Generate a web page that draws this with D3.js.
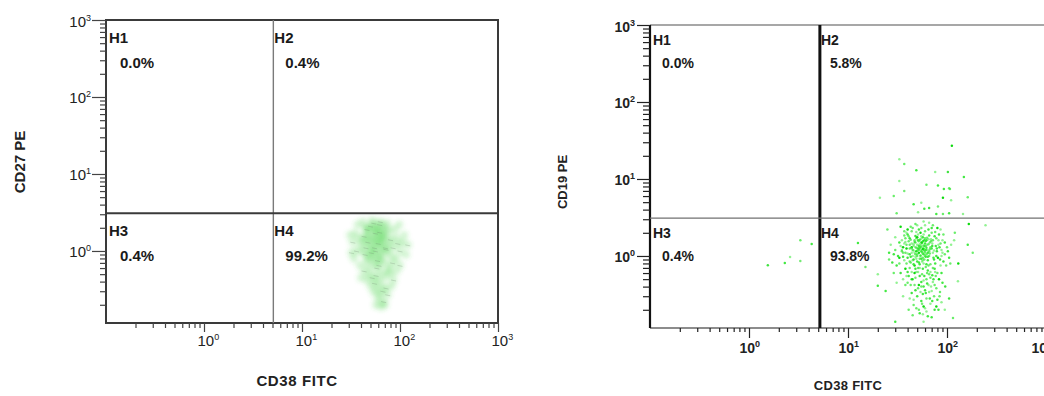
<!DOCTYPE html>
<html><head><meta charset="utf-8">
<script src="https://cdn.jsdelivr.net/npm/d3@7"></script>
<style>
body{margin:0;background:#fff;}
svg{display:block;font-family:"Liberation Sans",Arial,Helvetica,sans-serif;}
</style>
</head><body>
<svg id="chart" width="1044" height="396"></svg>
<script>
// ---------------- DATA ----------------
const majorTicks = [1, 10, 100, 1000];
const majorExponents = ["0", "1", "2", "3"];
const quadrantNames = ["H1", "H2", "H3", "H4"];
const leftPercents = ["0.0%", "0.4%", "0.4%", "99.2%"];
const rightPercents = ["0.0%", "5.8%", "0.4%", "93.8%"];
const leftXTitle = "CD38 FITC";
const leftYTitle = "CD27 PE";
const rightXTitle = "CD38 FITC";
const rightYTitle = "CD19 PE";
const xDomain = [0.1, 1000];
const yDomain = [0.116, 1000];
const leftGate = [5.1, 3.1];   // [CD38 cut, CD27 cut]
const rightGate = [5.2, 3.1];  // [CD38 cut, CD19 cut]

// left panel events (CD38, CD27)
const leftEvents = [
[56,1.0],[50,1.2],[62,0.9],[45,1.1],[68,1.3],[53,1.5],[59,0.75],[47,0.85],[64,1.6],[72,1.05],
[42,1.35],[57,1.8],[51,0.95],[66,0.8],[48,1.65],[60,1.25],[54,0.7],[70,1.5],[44,0.9],[63,1.15],
[58,2.0],[46,1.9],[75,0.95],[52,1.4],[61,0.65],[40,1.2],[67,1.9],[55,1.1],[49,0.6],[73,1.7],
[43,1.55],[65,1.0],[57,1.3],[50,2.1],[78,1.25],[45,0.72],[62,2.2],[53,0.88],[69,0.7],[47,1.3],
[59,1.45],[41,1.0],[56,1.7],[64,1.35],[51,1.05],[71,1.1],[48,1.95],[60,0.82],[54,2.3],[66,1.55],
[38,1.45],[80,1.4],[44,2.0],[76,1.9],[58,0.6],[50,0.78],[68,2.1],[62,1.75],[46,1.5],[55,1.95],
[36,1.0],[35,1.7],[34,0.8],[85,1.1],[90,1.5],[82,0.85],[95,1.25],[37,2.2],[88,1.9],[100,1.0],
[42,2.4],[52,2.5],[63,2.4],[74,2.3],[39,0.65],[84,0.7],[92,0.8],[105,1.3],[33,1.3],[110,1.6],
[48,0.5],[57,0.48],[66,0.52],[75,0.55],[43,0.55],[60,0.42],[70,0.45],[52,0.45],[80,0.5],[46,0.42],
[55,0.38],[64,0.36],[58,0.32],[67,0.3],[62,0.27],[54,0.29],[72,0.33],[50,0.35],[60,0.24],[68,0.22],
[57,0.2],[64,0.19],[75,0.27],[70,0.2],[82,0.35],[86,0.42],[78,0.62],
[115,0.9],[120,1.2],[98,2.2],[31,1.6],[32,0.95],[40,0.45],[92,0.55],[100,0.65]
];

// right panel events (CD38, CD19)
const rightEvents = [
[52,1.1],[48,1.3],[57,0.95],[61,1.2],[45,1.0],[55,1.5],[50,0.85],[63,1.4],[42,1.25],[58,1.05],
[47,1.6],[66,1.0],[53,0.78],[44,1.45],[60,1.7],[49,1.15],[56,1.3],[38,1.1],[70,1.25],[51,1.9],
[46,0.9],[64,0.88],[54,1.22],[41,1.55],[59,1.35],[67,1.5],[43,0.82],[57,1.75],[50,1.4],[62,1.05],
[36,1.3],[72,1.1],[48,1.05],[55,0.92],[65,1.65],[40,0.95],[53,1.62],[58,0.8],[45,1.2],[61,0.98],
[49,1.7],[68,1.3],[52,1.35],[44,1.1],[56,1.12],[47,0.75],[63,1.2],[39,1.4],[60,1.45],[54,1.02],
[51,1.25],[57,1.55],[46,1.35],[66,1.15],[42,1.05],[59,0.9],[50,1.0],[62,1.6],[55,1.8],[48,1.5],
[33,0.95],[35,1.6],[30,1.2],[78,1.0],[82,1.4],[85,0.9],[75,1.8],[88,1.2],[95,1.05],[31,0.75],
[37,2.1],[43,2.4],[52,2.2],[60,2.5],[70,2.0],[80,2.3],[66,2.7],[48,2.6],[40,1.9],[90,1.6],
[34,0.6],[41,0.55],[49,0.62],[56,0.58],[64,0.65],[72,0.7],[80,0.6],[45,0.5],[58,0.48],[68,0.52],
[38,0.68],[53,0.7],[61,0.72],[76,0.8],[86,0.75],[92,0.85],[29,1.05],[27,1.4],[100,1.3],[105,0.95],
[47,0.42],[55,0.4],[63,0.44],[72,0.46],[40,0.45],[83,0.5],[36,0.5],[51,0.38],[60,0.36],[69,0.4],
[44,0.33],[57,0.32],[66,0.34],[78,0.38],[50,0.3],[62,0.28],[74,0.3],[55,0.26],[46,0.27],[85,0.34],
[58,0.22],[68,0.24],[49,0.21],[80,0.27],[62,0.19],[75,0.2],[53,0.18],[88,0.25],[45,0.17],[70,0.16],
[54,1.0],[50,1.18],[58,1.25],[47,1.1],[61,1.35],[44,1.3],[56,0.85],[52,1.55],[64,1.1],[49,0.92],
[59,1.6],[53,1.28],[46,1.42],[57,1.08],[62,0.78],[51,0.7],[67,1.22],[43,0.98],[55,1.38],[60,1.0],
[39,1.25],[71,1.45],[65,0.75],[48,0.68],[37,0.88],[74,0.9],[42,1.7],[69,1.65],[35,1.15],[77,1.35],
[52,1.2],[49,1.28],[55,1.15],[53,1.42],[50,1.05],[57,1.22],[46,1.18],[60,1.12],[54,1.32],[48,0.98],
[56,1.48],[51,1.6],[58,1.38],[44,1.26],[62,1.28],[47,1.52],[53,0.92],[59,1.18],[45,0.88],[65,1.42],
[50,1.75],[55,1.68],[42,1.4],[61,1.56],[57,0.88],[48,1.82],[64,0.98],[40,1.08],[67,1.08],[52,0.82],
[43,1.62],[69,1.55],[46,0.78],[58,1.9],[63,1.72],[54,2.0],[49,2.05],[41,1.8],[66,1.85],[38,1.52],
[71,1.35],[36,0.98],[74,1.18],[39,0.8],[73,0.95],[44,2.1],[60,2.1],[57,0.68],[51,0.62],[63,0.6],
[47,0.6],[68,0.62],[42,0.7],[75,0.68],[35,1.2],[79,1.15],[33,1.5],[82,1.6],[37,1.85],[84,1.3],
[55,2.3],[45,2.3],[65,2.2],[50,2.5],[72,2.5],[40,2.2],[58,2.8],[76,2.05],[32,1.0],[88,1.0],
[53,0.55],[59,0.55],[44,0.62],[66,0.58],[71,0.56],[48,0.52],[62,0.5],[55,0.46],[39,0.55],[77,0.55],
[52,0.42],[65,0.42],[43,0.42],[58,0.4],[70,0.35],[48,0.36],[61,0.33],[54,0.34],[75,0.42],[67,0.28],
[56,0.24],[46,0.23],[71,0.26],[60,0.21],[52,0.2],[78,0.22],[42,0.28],[84,0.3],[64,0.165],[57,0.175],
[28,0.82],[26,1.1],[30,1.75],[29,0.6],[95,1.5],[98,0.75],[92,1.9],[102,1.15],[110,1.4],[108,0.8],
[34,2.4],[86,2.2],[38,0.42],[90,0.45],[31,0.45],[96,0.4],[82,0.2],[36,0.3],[41,0.2],[88,0.6],
[36,1.1],[38,1.7],[40,0.62],[34,1.35],[78,1.7],[81,0.95],[76,0.62],[86,1.45],[70,2.3],[39,2.0],
[44,0.5],[73,0.5],[90,1.1],[33,0.8],[83,1.9],[68,0.78],[42,0.85],[79,1.25],[37,1.45],[72,1.6],
[112,27],[33,18],[37,15.6],[49,13],[76,12.3],[102,12.3],[148,10.6],[33,9.4],[62,8.4],[81,8.2],
[37,7.0],[107,7.4],[93,7.4],[21,5.7],[29,6.0],[91,5.7],[110,5.3],[162,5.8],[46,4.7],[55,4.9],
[66,4.2],[78,3.5],[51,3.7],[31,3.6],[59,4.1],[81,4.4],[91,3.5],[105,3.6],[145,3.5],[105,7.6],
[166,2.6],[245,2.5],[182,1.1],[162,1.4],[129,0.47],[105,0.28],[30,0.14],[58,0.14],[115,0.157],[20,0.41],
[15,0.72],[25,2.2],[12.6,1.47],[20,0.58],[120,2.0],[130,0.8],[118,1.6],[26,0.9],[24,0.35],[95,0.2],
[1.55,0.76],[2.3,0.81],[2.6,0.97],[3.3,1.6],[4.3,1.43],[3.3,0.86]
];

// ---------------- PANELS ----------------
const W = 1044;
const panels = [
  {events: leftEvents, gate: leftGate, pct: leftPercents, xTitle: leftXTitle, yTitle: leftYTitle,
   xr: [106, 498], yr: [323, 20], style: "left"},
  {events: rightEvents, gate: rightGate, pct: rightPercents, xTitle: rightXTitle, yTitle: rightYTitle,
   xr: [650, 1046], yr: [328, 25], style: "right"}
];

const svg = d3.select("#chart");
const defs = svg.append("defs");
defs.append("filter").attr("id", "soft").attr("x", "-50%").attr("y", "-50%").attr("width", "200%").attr("height", "200%")
  .append("feGaussianBlur").attr("stdDeviation", 2.2);

function minorValues() {
  const v = [];
  [0.1, 1, 10, 100].forEach(d => { for (let k = 2; k <= 9; k++) v.push(d * k); });
  return v;
}

panels.forEach(p => {
  const L = p.style === "left";
  const x = d3.scaleLog().domain(xDomain).range(p.xr);
  const y = d3.scaleLog().domain(yDomain).range(p.yr);
  const g = svg.append("g");
  const x0 = p.xr[0], x1 = p.xr[1], yB = p.yr[0], yT = p.yr[1];

  // events
  if (L) {
    g.append("g").attr("filter", "url(#soft)")
      .selectAll("circle").data(p.events).join("circle")
      .attr("cx", d => x(d[0])).attr("cy", d => y(d[1]))
      .attr("r", 4.2).attr("fill", "#3fd03f").attr("fill-opacity", 0.22);
    g.append("g").selectAll("line").data(p.events.filter((d, i) => i % 3 === 0)).join("line")
      .attr("x1", d => x(d[0]) - 2.5).attr("x2", d => x(d[0]) + 2.5)
      .attr("y1", d => y(d[1])).attr("y2", d => y(d[1]) + 1)
      .attr("stroke", "#6a7a6a").attr("stroke-opacity", 0.3).attr("stroke-width", 0.8);
  } else {
    g.append("g").selectAll("circle").data(p.events).join("circle")
      .attr("cx", d => x(d[0])).attr("cy", d => y(d[1]))
      .attr("r", 1.25).attr("fill", (d, i) => i % 5 === 0 ? "#00d800" : "#38e838")
      .attr("fill-opacity", (d, i) => [0.95, 0.55, 0.75][i % 3]);
  }

  // frame
  if (L) {
    g.append("rect").attr("x", x0).attr("y", yT).attr("width", x1 - x0).attr("height", yB - yT)
      .attr("fill", "none").attr("stroke", "#3a3a3a").attr("stroke-width", 2);
  } else {
    g.append("line").attr("x1", x0).attr("x2", W).attr("y1", yT).attr("y2", yT)
      .attr("stroke", "#8a8a8a").attr("stroke-width", 1.6);
    g.append("line").attr("x1", x0).attr("x2", W).attr("y1", yB).attr("y2", yB)
      .attr("stroke", "#666").attr("stroke-width", 1.5);
    g.append("line").attr("x1", x0).attr("x2", x0).attr("y1", yT).attr("y2", yB)
      .attr("stroke", "#111").attr("stroke-width", 2.2);
  }

  // gates
  g.append("line").attr("x1", x(p.gate[0])).attr("x2", x(p.gate[0])).attr("y1", yT).attr("y2", yB)
    .attr("stroke", L ? "#7a7a7a" : "#111").attr("stroke-width", L ? 1.4 : 3);
  g.append("line").attr("x1", x0).attr("x2", L ? x1 : W).attr("y1", y(p.gate[1])).attr("y2", y(p.gate[1]))
    .attr("stroke", L ? "#3a3a3a" : "#707070").attr("stroke-width", L ? 2 : 1.3);

  const tickColor = L ? "#444" : "#222";
  const xaMinor = g.append("g").attr("transform", `translate(0,${yB})`)
    .call(d3.axisBottom(x).tickValues(minorValues()).tickSize(L ? 5 : 4).tickFormat(""));
  const xaMajor = g.append("g").attr("transform", `translate(0,${yB})`)
    .call(d3.axisBottom(x).tickValues(majorTicks).tickSize(L ? 9 : 10).tickFormat(""));
  const ya = g.append("g").attr("transform", `translate(${x0},0)`)
    .call(d3.axisLeft(y).tickValues(minorValues()).tickSize(L ? 6 : 7).tickFormat(""));
  const yaMajor = g.append("g").attr("transform", `translate(${x0},0)`)
    .call(d3.axisLeft(y).tickValues(majorTicks).tickSize(L ? 14 : 13).tickFormat(""));
  [xaMinor, xaMajor, ya, yaMajor].forEach(a => {
    a.select(".domain").remove();
    a.selectAll(".tick line").attr("stroke", tickColor).attr("stroke-width", 1.2);
  });

  const fs = L ? 15 : 14;
  xaMajor.selectAll(".tick").append("text")
    .attr("y", L ? 23 : 25)
    .attr("x", d => L ? -7 : Math.min(-10, (W - 13) - x(d)))
    .attr("text-anchor", "start")
    .attr("fill", "#222").attr("font-size", fs).attr("font-weight", L ? "normal" : "bold")
    .each(function(d, i) {
      const t = d3.select(this);
      t.append("tspan").text("10");
      t.append("tspan").attr("dy", -6).attr("font-size", 9).text(majorExponents[i]);
    });
  yaMajor.selectAll(".tick").append("text")
    .attr("x", -15).attr("y", 6).attr("text-anchor", "end")
    .attr("fill", "#222").attr("font-size", fs).attr("font-weight", L ? "normal" : "bold")
    .each(function(d, i) {
      const t = d3.select(this);
      t.append("tspan").text("10");
      t.append("tspan").attr("dy", -6).attr("font-size", 9).text(majorExponents[i]);
    });

  // titles
  g.append("text").attr("x", L ? (x0 + x1) / 2 - 5 : x(10)).attr("y", L ? 386 : 390)
    .attr("text-anchor", "middle").attr("font-weight", "bold").attr("font-size", L ? 15 : 13)
    .attr("fill", "#222").attr("letter-spacing", L ? 0.6 : 0.3).text(p.xTitle);
  g.append("text").attr("transform", `translate(${L ? 25 : 567},${L ? 162 : 182}) rotate(-90)`)
    .attr("text-anchor", "middle").attr("font-weight", "bold").attr("font-size", L ? 15 : 13)
    .attr("fill", "#222").text(p.yTitle);

  // quadrant labels
  const gx = x(p.gate[0]), gy = y(p.gate[1]);
  const hOff = L ? 23 : 20, pOff = L ? 48 : 43;
  const qpos = [[x0 + 3, yT], [gx + 1, yT], [x0 + 3, gy], [gx + 1, gy]];
  const lab = g.append("g").attr("font-weight", "bold").attr("font-size", L ? 15 : 14).attr("fill", "#1a1a1a");
  qpos.forEach((q, i) => {
    lab.append("text").attr("x", q[0]).attr("y", q[1] + hOff).text(quadrantNames[i]);
    lab.append("text").attr("x", q[0] + (L ? 11 : 9)).attr("y", q[1] + pOff).text(p.pct[i]);
  });
});
</script>
</body></html>
